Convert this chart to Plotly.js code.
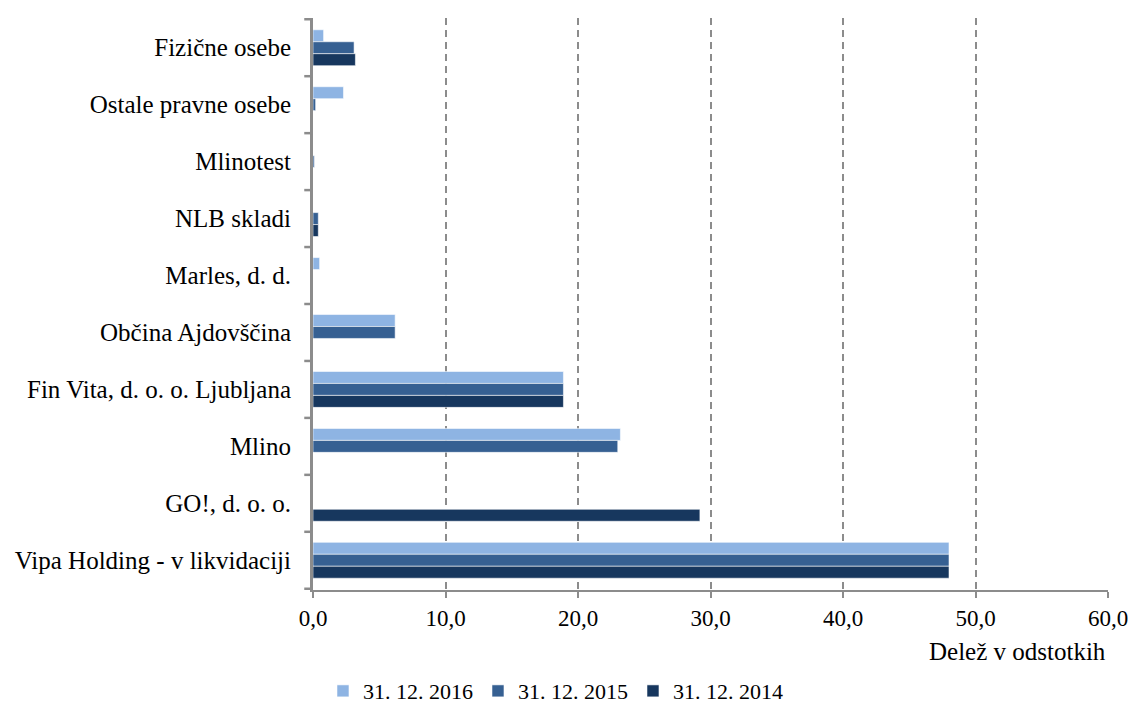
<!DOCTYPE html>
<html>
<head>
<meta charset="utf-8">
<script src="https://cdn.plot.ly/plotly-3.0.1.min.js"></script>
<style>html,body{margin:0;padding:0;background:#fff;}#chart{width:1131px;height:708px;}</style>
</head>
<body>
<div id="chart"></div>
<script>
const categories = ["Fizične osebe", "Ostale pravne osebe", "Mlinotest", "NLB skladi", "Marles, d. d.", "Občina Ajdovščina", "Fin Vita, d. o. o. Ljubljana", "Mlino", "GO!, d. o. o.", "Vipa Holding - v likvidaciji"];
const seriesNames = ["31. 12. 2016", "31. 12. 2015", "31. 12. 2014"];
const values2016 = [0.8, 2.3, 0, 0, 0.5, 6.2, 18.9, 23.2, 0, 48.0];
const values2015 = [3.1, 0.2, 0.1, 0.4, 0, 6.2, 18.9, 23.0, 0, 48.0];
const values2014 = [3.2, 0, 0, 0.4, 0, 0, 18.9, 0, 29.2, 48.0];
const colors = ["#8EB4E3", "#366092", "#17375E"];
const xTicks = [0, 10, 20, 30, 40, 50, 60];

const font = "Liberation Serif, Times New Roman, serif";
const allVals = [values2016, values2015, values2014];
const traces = allVals.map((v, i) => ({
  type: "bar",
  orientation: "h",
  name: seriesNames[i],
  y: categories,
  x: v,
  marker: {color: colors[i], line: {color: "rgba(255,255,255,0.7)", width: 0.8}},
  hoverinfo: "x+y+name"
}));

// category boundary tick marks on the category axis (Excel-style)
const boundaryShapes = [];
for (let k = 0; k <= categories.length; k++) {
  boundaryShapes.push({
    type: "line", xref: "paper", yref: "y", layer: "above",
    x0: -0.011, x1: 0, y0: k - 0.5, y1: k - 0.5,
    line: {color: "#8c8c8c", width: 2.5}
  });
}

const layout = {
  width: 1131, height: 708,
  margin: {l: 313, r: 23, t: 18, b: 118, autoexpand: false},
  paper_bgcolor: "#fff", plot_bgcolor: "#fff",
  font: {family: font, size: 25, color: "#000"},
  separators: ",.",
  barmode: "group",
  bargap: 0.37,
  bargroupgap: 0,
  showlegend: true,
  legend: {orientation: "h", x: 0.305, xanchor: "center", y: -0.14, yanchor: "top",
           font: {family: font, size: 22, color: "#000"}, traceorder: "normal", itemwidth: 30},
  xaxis: {
    range: [0, 60], tickvals: xTicks, tickformat: ".1f",
    showgrid: true, gridcolor: "#8c8c8c", griddash: "7px,5px", gridwidth: 1.5,
    zeroline: false, showline: true, linecolor: "#8c8c8c", linewidth: 2,
    ticks: "outside", tickcolor: "#8c8c8c", ticklen: 6, tickwidth: 2,
    tickfont: {family: font, size: 23}
  },
  yaxis: {
    type: "category", categoryorder: "array", categoryarray: categories,
    autorange: "reversed",
    showline: true, linecolor: "#8c8c8c", linewidth: 3,
    ticks: "", showgrid: false, tickfont: {family: font, size: 25}, ticklabelstandoff: 14
  },
  shapes: boundaryShapes,
  annotations: [{
    text: "Delež v odstotkih", xref: "paper", yref: "paper", x: 1.0, y: -0.107,
    xanchor: "right", yanchor: "middle", showarrow: false, font: {family: font, size: 25}
  }]
};

Plotly.newPlot("chart", traces, layout, {displayModeBar: false, responsive: false});
</script>
</body>
</html>
